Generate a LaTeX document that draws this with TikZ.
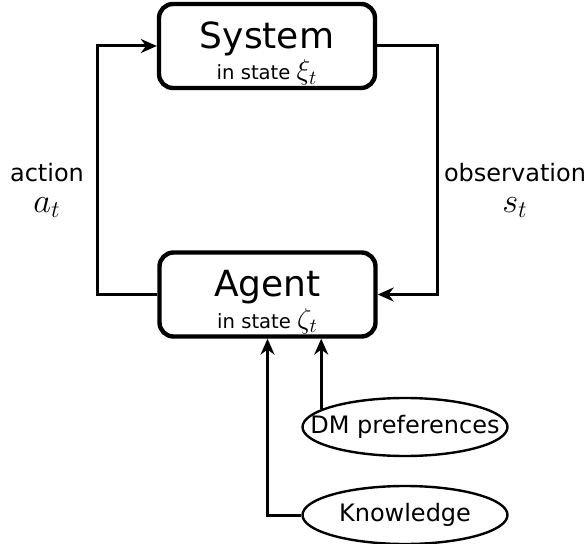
\documentclass[tikz,border=0pt]{standalone}
\usepackage{fontspec}
\setmainfont{DejaVu Sans}
\usetikzlibrary{shapes.geometric,arrows.meta,positioning,calc}

\newcommand{\titlesize}{\fontsize{18}{18}\selectfont\rule{0pt}{21pt}}
\newcommand{\substate}{\fontsize{9.8}{11}\selectfont}
\newcommand{\mathat}[2]{{\fontsize{#1}{#1}\selectfont$#2$}}

\tikzset{
  block/.style={draw, line width=2.2pt, rounded corners=7pt, minimum width=108pt, minimum height=42pt, align=center, inner sep=0pt},
  bubble/.style={draw, ellipse, line width=1.2pt, minimum width=102.5pt, minimum height=29pt, inner sep=0pt},
  link/.style={line width=1.5pt, -{Stealth[length=8pt,width=7pt]}},
  lbl/.style={align=center, font=\fontsize{12}{15.5}\selectfont}
}

\begin{document}
\begin{tikzpicture}[x=0.5pt, y=-0.5pt, every label/.style={font=\fontsize{12}{14}\selectfont}]
    \useasboundingbox (0,0) rectangle (587,544);
    % System and Agent
    \node[block] (sys) at (267,46) {{\titlesize System}\\[1pt]{\substate in state \mathat{14.4}{\xi_t}}};
    \node[block] (agent) at (267.5,294.5) {{\titlesize Agent}\\[1pt]{\substate in state \mathat{14.4}{\zeta_t}}};

    % inputs of the agent
    \node[bubble, label={center:DM preferences}] (dm) at (405,427) {};
    \node[bubble, label={center:Knowledge}] (know) at (405,515) {};

    % loop
    \draw[link] (agent.west) -- ++(-60,0) |- (sys.west);
    \draw[link] (sys.east) -- ++(60,0) |- (agent.east);
    \node[lbl] (act) at (47,190) {action\\\mathat{17.28}{a_t}};
    \node[lbl] (obs) at (515,190) {observation\\\mathat{17.28}{s_t}};

    % into the agent
    \draw[link] (dm.168) -- (dm.168 |- agent.south);
    \draw[link] (know.west) -| (agent.south);
\end{tikzpicture}
\end{document}
